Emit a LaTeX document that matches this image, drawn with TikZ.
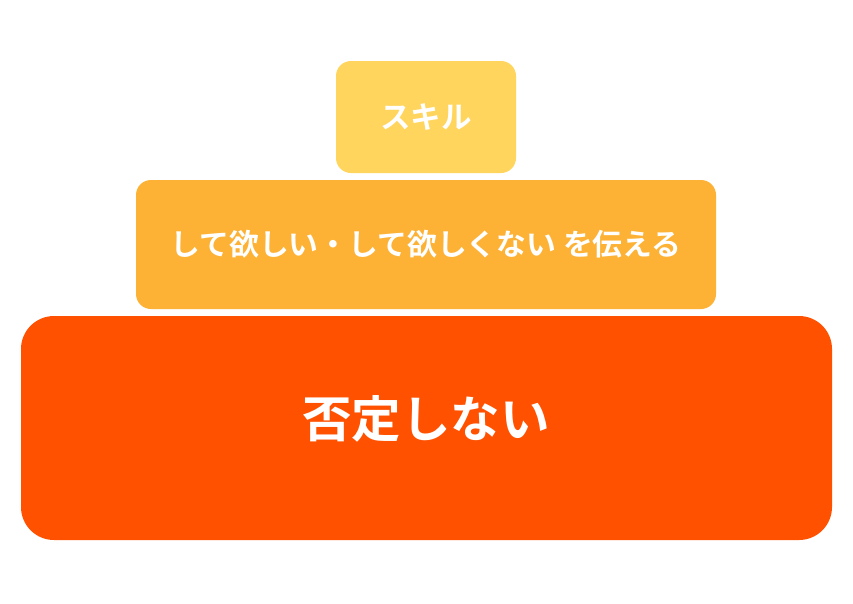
\documentclass[tikz,border=0pt]{standalone}
\usepackage{fontspec}
\newfontfamily\jpfont{Noto Sans CJK JP}[BoldFont={* Bold}]
\definecolor{topc}{HTML}{FFD55E}
\definecolor{midc}{HTML}{FDB235}
\definecolor{botc}{HTML}{FF5100}
\tikzset{
  tier/.style={inner sep=0pt, outer sep=0pt},
  lbl/.style={text=white, inner sep=0pt, font=\jpfont\bfseries}
}
\begin{document}
\begin{tikzpicture}[x=1pt,y=-1pt]
\useasboundingbox[fill=white] (0,0) rectangle (853,603);
\fill[topc, rounded corners=15pt] (336,61) rectangle (516,173);
\fill[midc, rounded corners=15pt] (136,180) rectangle (716,309);
\fill[botc, rounded corners=33pt] (21,316) rectangle (832,540);
\node[lbl, font=\jpfont\bfseries\fontsize{30.5}{36}\selectfont] (t1) at (426,117) {スキル};
\node[lbl, font=\jpfont\bfseries\fontsize{29.8}{35}\selectfont] (t2) at (426,244) {して欲しい・して欲しくない を伝える};
\node[lbl, font=\jpfont\bfseries\fontsize{49.5}{58}\selectfont] (t3) at (426,419) {否定しない};
\end{tikzpicture}
\end{document}
